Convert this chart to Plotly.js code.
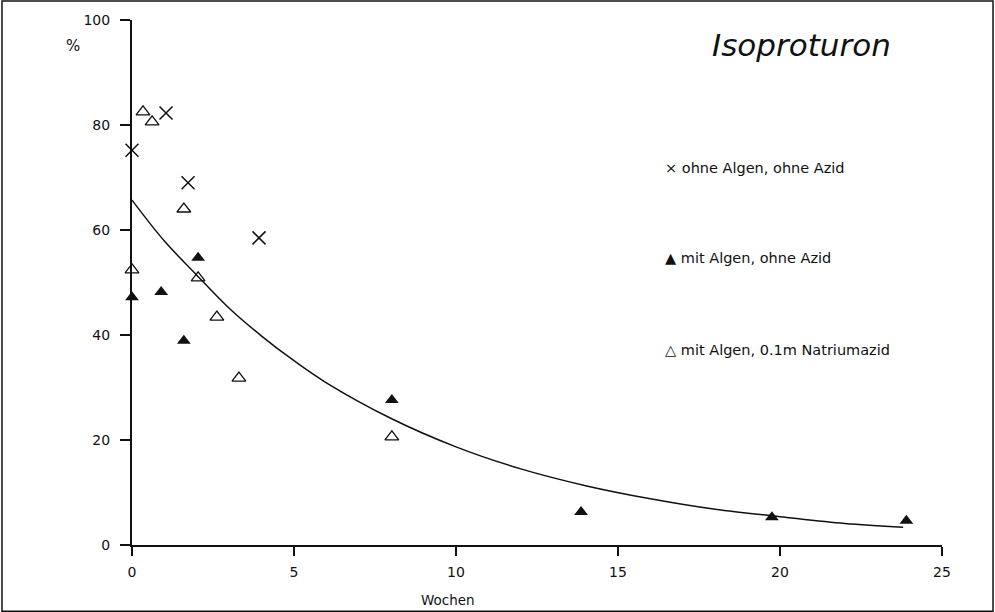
<!DOCTYPE html>
<html>
<head>
<meta charset="utf-8">
<script src="https://cdn.plot.ly/plotly-3.0.1.min.js"></script>
<style>html,body{margin:0;padding:0;background:#fff;}#chart{width:995px;height:612px;}</style>
</head>
<body>
<div id="chart"></div>
<script>
// Data
const xOhne = [0, 1.05, 1.73, 3.92];
const yOhne = [75.2, 82.3, 69.0, 58.5];

const xMitAlgen = [0, 0.9, 1.6, 2.04, 8.02, 13.86, 19.75, 23.9];
const yMitAlgen = [47.2, 48.2, 38.9, 54.7, 27.6, 6.3, 5.3, 4.6];

const xAzid = [0, 0.34, 0.62, 1.6, 2.04, 2.62, 3.3, 8.02];
const yAzid = [52.4, 82.5, 80.6, 64.0, 50.9, 43.4, 31.8, 20.6];

const xCurve = [0, 1, 2, 3, 4, 5, 6, 8, 10, 12, 14, 16, 18, 20, 22, 23.8];
const yCurve = [65.7, 57.9, 51.4, 45.1, 39.8, 35.1, 30.9, 24.1, 18.7, 14.5, 11.3, 8.8, 6.8, 5.4, 4.1, 3.4];

const xTicks = [0, 5, 10, 15, 20, 25];
const yTicks = [0, 20, 40, 60, 80, 100];

const legendLabels = ['\u00d7 ohne Algen, ohne Azid', '\u25b2 mit Algen, ohne Azid', '\u25b3 mit Algen, 0.1m Natriumazid'];
const legendY = [71.8, 54.7, 37.1];

const FONT = 'DejaVu Sans, sans-serif';
const INK = '#111';

const traces = [
  {x: xCurve, y: yCurve, mode: 'lines', line: {color: INK, width: 1.5, shape: 'spline'}, showlegend: false, hoverinfo: 'skip', cliponaxis: false},
  {x: xOhne, y: yOhne, mode: 'markers', cliponaxis: false, marker: {symbol: 'x-thin-open', size: 13, line: {color: INK, width: 1.5}, color: INK}, showlegend: false},
  {x: xMitAlgen, y: yMitAlgen, mode: 'markers', cliponaxis: false, marker: {symbol: 'triangle-up', size: 12, color: INK, line: {width: 0}}, showlegend: false},
  {x: xAzid, y: yAzid, mode: 'markers', cliponaxis: false, marker: {symbol: 'triangle-up-open', size: 12, color: INK, line: {color: INK, width: 1.3}}, showlegend: false}
];

const annotations = legendLabels.map((t, i) => ({
  text: t, x: 16.4, y: legendY[i], xref: 'x', yref: 'y', xanchor: 'left', yanchor: 'middle',
  showarrow: false, font: {family: FONT, size: 14.5, color: INK}
}));
annotations.push({text: '<i>Isoproturon</i>', x: 23.5, y: 95.2, xref: 'x', yref: 'y', xanchor: 'right', yanchor: 'middle',
  showarrow: false, font: {family: FONT, size: 31, color: INK, weight: 300}});
annotations.push({text: '%', x: -0.073, y: 95, xref: 'paper', yref: 'y', xanchor: 'center', yanchor: 'middle',
  showarrow: false, font: {family: FONT, size: 15, color: INK}});
annotations.push({text: 'Wochen', x: 9.75, y: -0.105, xref: 'x', yref: 'paper', xanchor: 'center', yanchor: 'middle',
  showarrow: false, font: {family: FONT, size: 13.5, color: INK}});

const layout = {
  width: 995, height: 612,
  margin: {l: 132, r: 53, t: 20, b: 67, pad: 0},
  paper_bgcolor: '#fff', plot_bgcolor: '#fff',
  showlegend: false,
  xaxis: {range: [0, 25], tickvals: xTicks, ticktext: xTicks.map(String), showgrid: false, zeroline: false,
    showline: true, linecolor: INK, linewidth: 2, ticks: 'outside', ticklen: 9, tickwidth: 1.2, tickcolor: INK,
    ticklabelstandoff: 4,
    tickfont: {family: FONT, size: 14, color: INK}, fixedrange: true},
  yaxis: {range: [0, 100], tickvals: yTicks, ticktext: yTicks.map(String), showgrid: false, zeroline: false,
    showline: true, linecolor: INK, linewidth: 2, ticks: 'outside', ticklen: 10, tickwidth: 1.2, tickcolor: INK,
    ticklabelstandoff: 7,
    tickfont: {family: FONT, size: 14, color: INK}, fixedrange: true},
  annotations: annotations,
  shapes: [
    {type: 'rect', xref: 'paper', yref: 'paper', x0: -0.1605, x1: 1.063, y0: -0.126, y1: 1.036,
      line: {color: INK, width: 1.5}, fillcolor: 'rgba(0,0,0,0)'}
  ]
};

Plotly.newPlot('chart', traces, layout, {displayModeBar: false, staticPlot: true});
</script>
</body>
</html>
